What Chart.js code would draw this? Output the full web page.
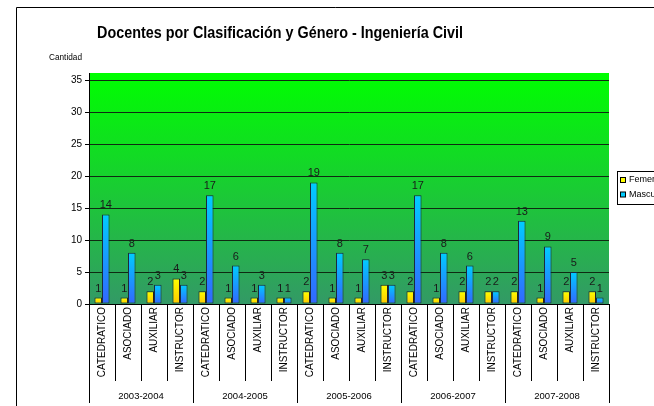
<!DOCTYPE html>
<html>
<head>
<meta charset="utf-8">
<title>Docentes por Clasificación y Género - Ingeniería Civil</title>
<script src="https://cdn.jsdelivr.net/npm/chart.js@4.4.1/dist/chart.umd.min.js"></script>
<style>
  html, body { margin: 0; padding: 0; background: #fff; overflow: hidden; }
  #chart { display: block; }
</style>
</head>
<body>
<canvas id="chart" width="654" height="406"></canvas>
<script>
// datos
const puestos = ['CATEDRATICO', 'ASOCIADO', 'AUXILIAR', 'INSTRUCTOR'];
const periodos = ['2003-2004', '2004-2005', '2005-2006', '2006-2007', '2007-2008'];
const femenino = [1, 1, 2, 4, 2, 1, 1, 1, 2, 1, 1, 3, 2, 1, 2, 2, 2, 1, 2, 2];
const masculino = [14, 8, 3, 3, 17, 6, 3, 1, 19, 8, 7, 3, 17, 8, 6, 2, 13, 9, 5, 1];
const yTicks = [0, 5, 10, 15, 20, 25, 30, 35];
const series = ['Femenino', 'Masculino'];

const FONT = 'Liberation Sans, Arial, sans-serif';
const categorias = periodos.flatMap(() => puestos);

function barGradient(c, top, bottom) {
  const chart = c.chart;
  if (!chart.chartArea || c.dataIndex === undefined) return top;
  const y = chart.scales.y;
  const v = c.dataset.data[c.dataIndex];
  const g = chart.ctx.createLinearGradient(0, y.getPixelForValue(v), 0, y.getPixelForValue(0));
  g.addColorStop(0, top);
  g.addColorStop(1, bottom);
  return g;
}

const decor = {
  id: 'decor',
  beforeDraw(chart) {
    const { ctx, chartArea: a } = chart;
    ctx.save();
    ctx.fillStyle = '#fff';
    ctx.fillRect(0, 0, chart.width, chart.height);
    // marco exterior
    ctx.strokeStyle = '#000';
    ctx.lineWidth = 1;
    ctx.beginPath();
    ctx.moveTo(16.5, chart.height);
    ctx.lineTo(16.5, 7.5);
    ctx.lineTo(chart.width, 7.5);
    ctx.stroke();
    // fondo del area de trazado
    const g = ctx.createLinearGradient(0, a.top, 0, a.bottom);
    g.addColorStop(0, '#00ff00');
    g.addColorStop(1, '#339966');
    ctx.fillStyle = g;
    ctx.fillRect(a.left, a.top, a.right - a.left, a.bottom - a.top);
    // titulo
    ctx.fillStyle = '#000';
    ctx.textAlign = 'center';
    ctx.textBaseline = 'alphabetic';
    ctx.font = 'bold 17px ' + FONT;
    ctx.fillText('Docentes por Clasificación y Género - Ingeniería Civil', 280, 38, 366);
    ctx.textAlign = 'left';
    ctx.font = '9px ' + FONT;
    ctx.fillText('Cantidad', 49, 60, 33);
    ctx.restore();
  },
  afterDatasetsDraw(chart) {
    const ctx = chart.ctx;
    ctx.save();
    ctx.fillStyle = '#1a1a1a';
    ctx.font = '11px ' + FONT;
    ctx.textAlign = 'center';
    ctx.textBaseline = 'alphabetic';
    chart.data.datasets.forEach((ds, i) => {
      chart.getDatasetMeta(i).data.forEach((el, j) => {
        ctx.fillText(String(ds.data[j]), el.x, el.y - 6);
      });
    });
    ctx.restore();
  },
  afterDraw(chart) {
    const { ctx, chartArea: a } = chart;
    const xs = chart.scales.x;
    ctx.save();
    ctx.strokeStyle = '#000';
    ctx.lineWidth = 1;
    for (let i = 0; i <= categorias.length; i++) {
      const x = Math.round(xs.getPixelForValue(i - 0.5)) + 0.5;
      const len = i % puestos.length === 0 ? 99 : 77;
      ctx.beginPath();
      ctx.moveTo(x, a.bottom);
      ctx.lineTo(x, a.bottom + len);
      ctx.stroke();
    }
    // leyenda (recortada a la derecha como en el original)
    ctx.strokeRect(617.5, 171.5, 60, 33);
    const colores = [['#ffff00', '#ffcc00'], ['#00ccff', '#3366ff']];
    ctx.font = '9px ' + FONT;
    ctx.textBaseline = 'middle';
    series.forEach((s, i) => {
      const y = 179.5 + i * 14.5;
      ctx.fillStyle = colores[i][0];
      ctx.fillRect(620.5, y - 2, 5, 5);
      ctx.strokeRect(620.5, y - 2, 5, 5);
      ctx.fillStyle = '#000';
      ctx.fillText(s, 629, y + 0.5);
    });
    ctx.restore();
  }
};

new Chart(document.getElementById('chart'), {
  type: 'bar',
  data: {
    labels: categorias,
    datasets: [
      {
        label: series[0],
        data: femenino,
        backgroundColor: c => barGradient(c, '#ffff00', '#ffc800'),
        borderColor: '#222',
        borderWidth: 1,
        borderSkipped: false
      },
      {
        label: series[1],
        data: masculino,
        backgroundColor: c => barGradient(c, '#00ccff', '#3366ff'),
        borderColor: '#1a2a40',
        borderWidth: 1,
        borderSkipped: false
      }
    ]
  },
  options: {
    responsive: false,
    animation: false,
    devicePixelRatio: 1,
    layout: { padding: { top: 73, right: 45, left: 0, bottom: 0 } },
    categoryPercentage: 0.58,
    barPercentage: 1,
    plugins: {
      legend: { display: false },
      title: { display: false },
      tooltip: { enabled: false }
    },
    scales: {
      y: {
        min: 0,
        max: 36.1,
        afterBuildTicks: s => { s.ticks = yTicks.map(v => ({ value: v })); },
        afterFit: s => { s.width = 89; },
        grid: { color: '#0f2a12', lineWidth: 1, tickLength: 4, tickColor: '#000' },
        border: { display: true, color: '#000' },
        ticks: { font: { size: 10, family: FONT }, color: '#000', padding: 3 }
      },
      x: {
        afterFit: s => { s.height = 80; },
        grid: { display: false },
        border: { display: true, color: '#000' },
        ticks: {
          autoSkip: false,
          minRotation: 90,
          maxRotation: 90,
          padding: -5,
          color: '#000',
          font: { size: 10, family: FONT }
        }
      },
      x2: {
        type: 'category',
        labels: periodos,
        position: 'bottom',
        offset: true,
        weight: 1,
        afterFit: s => { s.height = 22; },
        grid: { display: false },
        border: { display: false },
        ticks: {
          autoSkip: false,
          maxRotation: 0,
          padding: -1,
          color: '#000',
          font: { size: 9.5, family: FONT }
        }
      }
    }
  },
  plugins: [decor]
});
</script>
</body>
</html>
